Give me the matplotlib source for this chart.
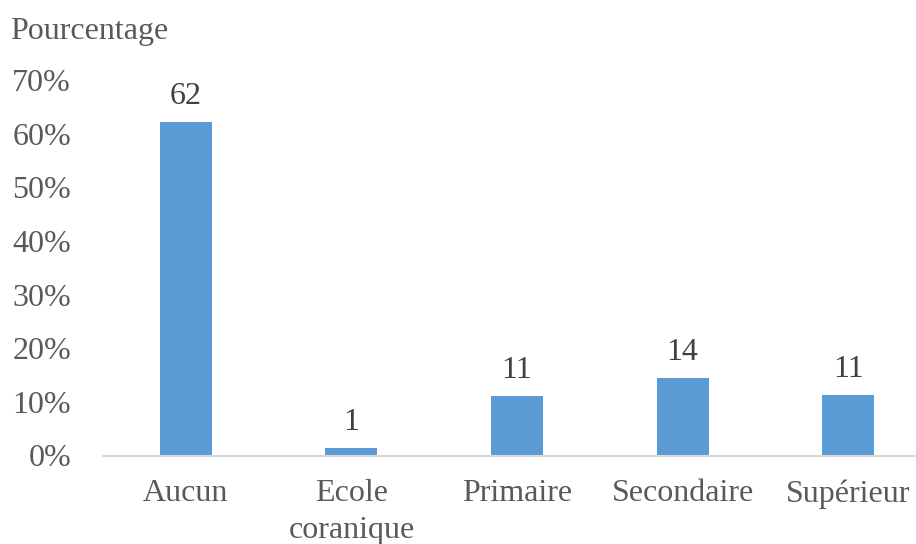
import matplotlib
matplotlib.use("Agg")
import matplotlib.pyplot as plt
from matplotlib.ticker import FuncFormatter

plt.rcParams['font.family'] = ['Liberation Serif', 'DejaVu Serif']

categories = ["Aucun", "Ecole\ncoranique", "Primaire", "Secondaire", "Supérieur"]
values = [62.1, 1.4, 11.0, 14.4, 11.3]
yticks = [0, 10, 20, 30, 40, 50, 60, 70]

FS = 23

fig = plt.figure(figsize=(9.16, 5.44), dpi=100)
W, H = 916, 544
# axes in pixel coordinates: x from 103 to 931, y from 455.5 (0%) to 80 (70%)
left, right = 103, 931
bottom, top = 455.5, 80
ax = fig.add_axes([left / W, 1 - bottom / H, (right - left) / W, (bottom - top) / H])

x = range(len(categories))
bars = ax.bar(x, values, width=0.314, color="#5B9BD5", zorder=2)

ax.set_xlim(-0.5, len(categories) - 0.5)
ax.set_ylim(0, 70)
ax.set_yticks(yticks)
ax.yaxis.set_major_formatter(FuncFormatter(lambda v, p: f"{int(v)}%"))
ax.set_xticks(list(x))
ax.set_xticklabels(categories, linespacing=1.35)

for s in ("top", "right", "left"):
    ax.spines[s].set_visible(False)
ax.spines["bottom"].set_color("#D9D9D9")
ax.spines["bottom"].set_linewidth(1.5)

ax.tick_params(axis="both", length=0, labelsize=FS, colors="#595959")
ax.tick_params(axis="y", pad=23)
ax.tick_params(axis="x", pad=17)
for lbl in ax.get_xticklabels():
    lbl.set_verticalalignment("top")

for b, v in zip(bars, values):
    ax.annotate(f"{round(v)}", (b.get_x() + b.get_width() / 2, v),
                xytext=(0, 13), textcoords="offset points",
                ha="center", va="baseline", fontsize=FS, color="#404040")

fig.text(10 / W, 1 - 31 / H, "Pourcentage", ha="left", va="center",
         fontsize=FS, color="#595959")

fig.savefig("out.png", dpi=100)
